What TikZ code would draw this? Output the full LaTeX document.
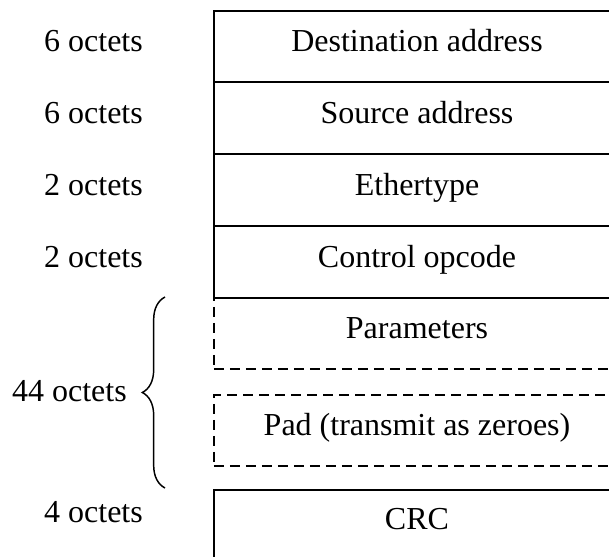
\documentclass[tikz,border=0pt]{standalone}
\usepackage{fontspec}
\setmainfont{Liberation Serif}
\usetikzlibrary{decorations.pathreplacing}
\begin{document}
\begin{tikzpicture}[x=0.75pt,y=-0.75pt,
  field/.style={draw, line width=1.4pt, anchor=north west, minimum width=306pt, minimum height=53.6pt, inner sep=0pt},
  optfield/.style={field, dashed, dash pattern=on 7.5pt off 4.5pt},
  txt/.style={font=\fontsize{24}{28}\selectfont, text height=16.5pt, text depth=7pt, inner sep=0pt},
  sizelabel/.style={txt}
]
\useasboundingbox (0,0) rectangle (609,556);
\clip (0,0) rectangle (609,556);
% fields
\node[field] (dest) at (213,10) {};
\node[field, minimum height=54pt] (src) at (213,81) {};
\node[field, minimum height=54pt] (eth) at (213,153) {};
\node[field, minimum height=54pt] (ctrl) at (213,225) {};
\node[optfield, minimum height=53.25pt] (par) at (213,297) {};
\node[optfield, minimum height=53.25pt] (pad) at (213,394) {};
\node[field, minimum height=60pt] (crc) at (213,489) {};
% field texts
\node[txt] (tdest) at (417,45.5) {Destination address};
\node[txt] (tsrc) at (417,117) {Source address};
\node[txt] (teth) at (417,189) {Ethertype};
\node[txt] (tctrl) at (417,261) {Control opcode};
\node[txt] (tpar) at (417,332.5) {Parameters};
\node[txt] (tpad) at (417,429.5) {Pad (transmit as zeroes)};
\node[txt] (tcrc) at (417,523.5) {CRC};
% size labels
\node[sizelabel] (l1) at (93.5,45.5) {6 octets};
\node[sizelabel] (l2) at (93.5,117) {6 octets};
\node[sizelabel] (l3) at (93.5,189) {2 octets};
\node[sizelabel] (l4) at (93.5,261) {2 octets};
\node[sizelabel, anchor=east] (l5) at (127,395) {44 octets};
\node[sizelabel] (l6) at (93.5,516) {4 octets};
% brace
\coordinate (bb) at (165,488);
\coordinate (bt) at (165,297);
\draw[line width=1.1pt, decorate, decoration={brace, amplitude=17pt}] (bb) -- (bt);
\end{tikzpicture}
\end{document}
